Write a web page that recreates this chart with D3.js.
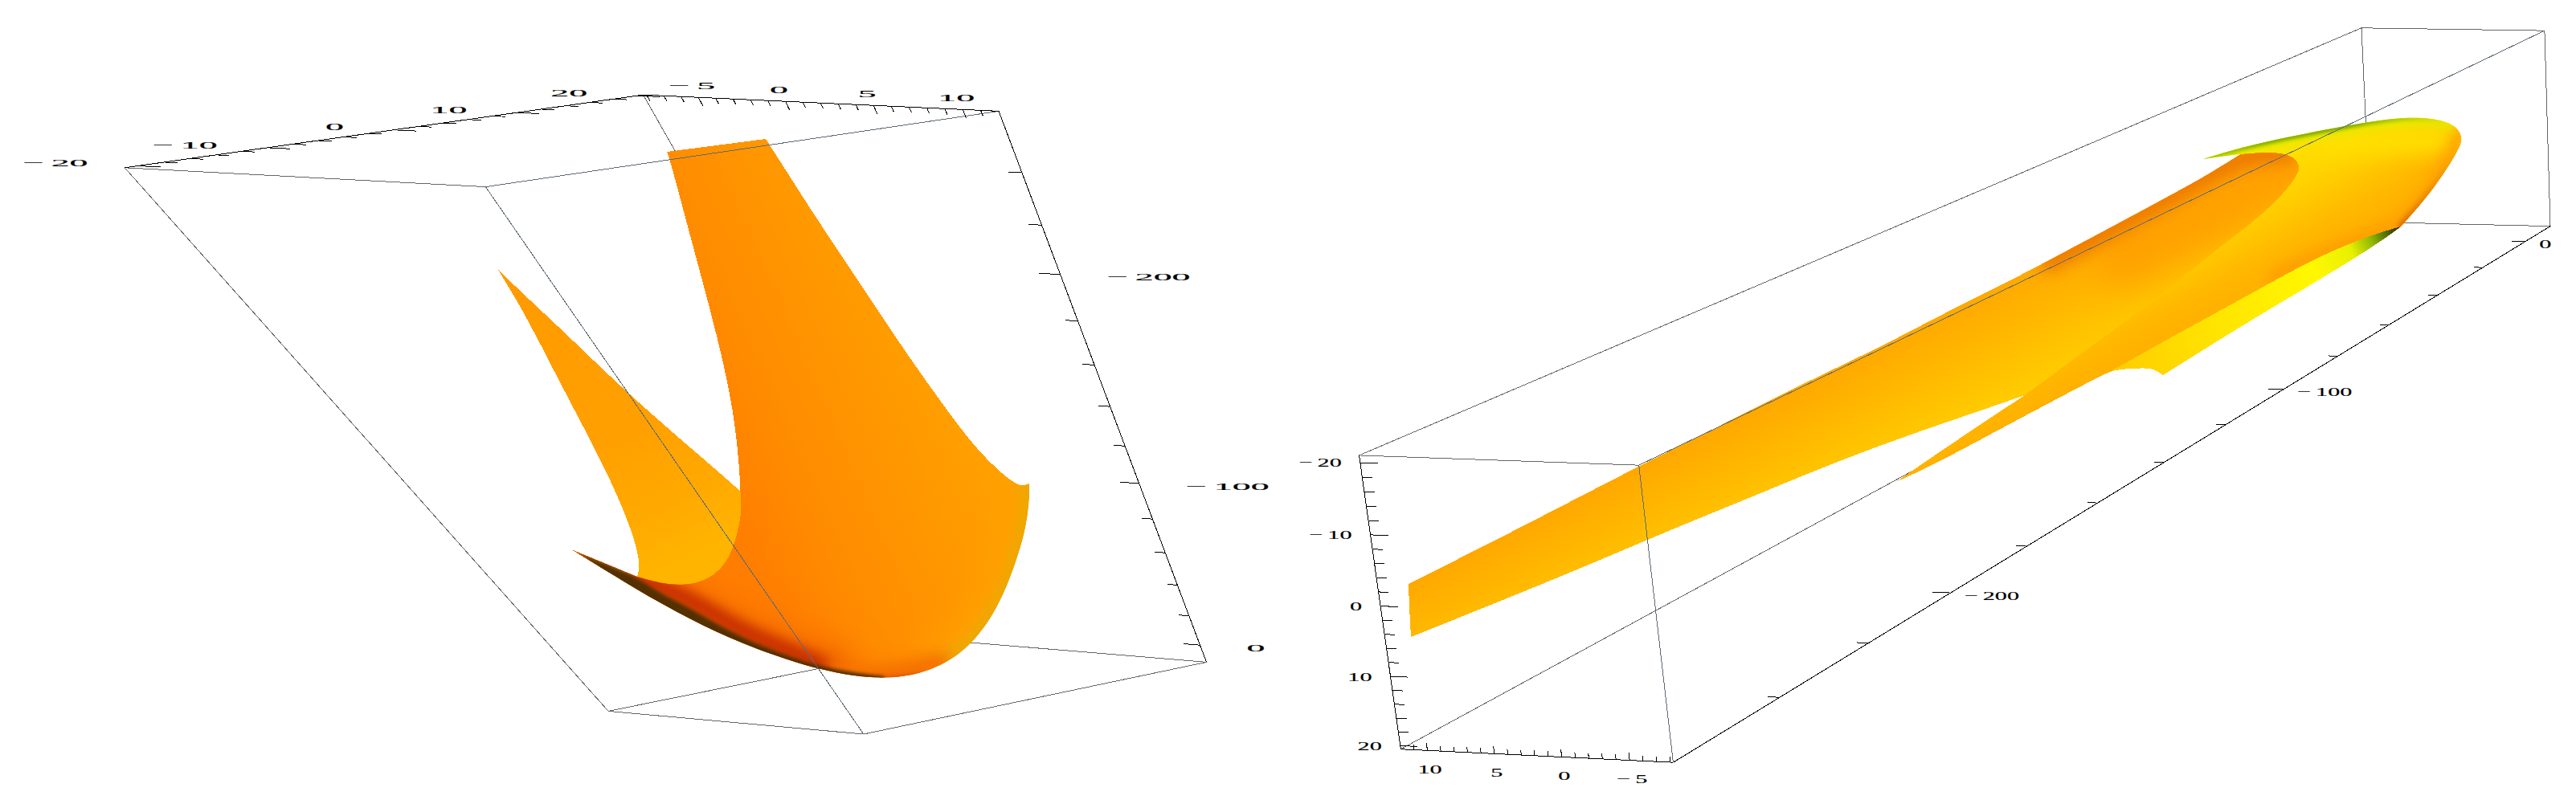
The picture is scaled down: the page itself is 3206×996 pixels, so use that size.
<!DOCTYPE html>
<html>
<head>
<meta charset="utf-8">
<script src="https://d3js.org/d3.v7.min.js"></script>
<style>
  html, body { margin: 0; background: #fff; }
  text { font-family: "Liberation Serif", serif; fill: #000; stroke: #000; stroke-width: 0.15; }
</style>
</head>
<body>
<script>
var width = 3206, height = 996;

// ---- axis data
var xRange = [12, -8.2], yRange = [-21, 20.5], zRange = [-262, 12];
var xTicks = d3.range(-8, 12), xMajor = [-5, 0, 5, 10];
var yTicks = d3.range(-20, 21, 2), yMajor = [-20, -10, 0, 10, 20];
var zTicks = d3.range(-240, 1, 20), zMajor = [-200, -100, 0];

// box corners, order u,v,w in the unit cube
var cubeCorners = [[0,0,0],[1,0,0],[0,1,0],[1,1,0],[0,0,1],[1,0,1],[0,1,1],[1,1,1]];
var leftBox  = [[603,234],[155,208],[1242,139],[803,117],[1075,913],[758,886],[1503,824],[1185,799]];
var rightBox = [[1692,567],[2039,579],[1743,933],[2083,949],[2939,35],[3167,38],[2950,276],[3174,282]];

// ---- surface outlines (picture units), left view
var armTop = [[620,336],[663,377],[707,418],[743,453],[777,485],[813,517],[847,547],[880,575],[922,612]];
var armHidden = [[922,612],[935,690],[850,745],[793,718]];
var armLeft = [[793,718],[797,703],[790,673],[777,637],[753,583],[720,520],[687,457],[653,390],[620,336]];

var sheetTop = [[953,173],[830,189]];
var sheetLeft = [[830,189],[835,203],[850,260],[867,323],[885,390],[900,450],[913,513],[920,577],[922,620],[922,640]];
var sheetFold = [[922,640],[920,653],[913,682],[900,707],[877,724],[850,729],[820,726],[793,718]];
var sliverTop = [[793,718],[750,700],[711,684]];
var sheetBottom = [[711,684],[774,723],[841,762],[908,795],[975,820],[1019,833],[1063,842],[1097,844],[1120,843],[1147,838],[1177,826],[1207,804],[1233,771],[1253,731],[1267,691],[1276,660],[1281,625],[1281,602]];
var sheetRight = [[1281,602],[1273,605],[1265,603],[1247,590],[1213,557],[1173,503],[1133,447],[1093,387],[1053,327],[1013,267],[980,215],[953,173]];

var darkUpper = [[711,684],[750,700],[793,718],[818,737],[860,757],[908,787],[975,815],[1019,829],[1064,838],[1100,842]];
var darkLower = [[1100,848],[1063,846],[1019,838],[975,825],[908,800],[841,767],[774,728],[711,684]];
var redRidge = [[793,720],[825,732],[870,752],[920,785],[985,812],[1020,827]];
var emberRidge = [[800,730],[870,770],[950,810],[1030,835]];
var floorRim = [[1019,836],[1063,845],[1097,848],[1147,842]];
var floorGlow = [[1000,838],[1090,846],[1170,826]];
var rimRight = [[1281,602],[1280,620],[1275,660],[1267,690],[1253,730],[1233,770],[1207,803],[1177,825]];

// ---- surface outlines, right view
var bodyUpper = [[1753,727],[1900,653],[2040,580],[2147,527],[2233,483],[2313,445],[2363,420],[2420,390],[2480,360],[2520,340],[2620,287],[2720,233],[2750,216],[2790,191]];
var bodyCap = [[2790,191],[2847,188],[2865,205],[2857,222],[2837,247],[2800,280],[2763,307],[2727,337],[2687,370]];
var bodyFold = [[2687,370],[2600,433],[2520,492]];
var bodyLower = [[2520,492],[2460,513],[2380,540],[2280,577],[2177,620],[2120,643],[2048,673],[1933,722],[1756,793]];
var bodyEnd = [[1756,793],[1754,757],[1753,727]];

var headTipEdge = [[2360,600],[2403,570],[2473,523],[2520,492]];
var headFold = [[2520,492],[2600,433],[2687,370],[2727,337],[2763,307],[2800,280],[2837,247],[2857,222],[2865,205],[2847,188],[2790,191],[2742,198]];
var headTop = [[2742,198],[2783,185],[2850,170],[2917,157],[2977,147],[3017,146],[3045,151],[3060,160],[3065,173],[3059,188],[3041,217],[3017,250],[2988,282]];
var headLower = [[2988,282],[2967,298],[2917,330],[2850,370],[2783,410],[2692,467]];
var notch = [[2692,467],[2680,459],[2667,458],[2633,460],[2620,465],[2563,495],[2497,530],[2410,577],[2360,600]];

var bandUpper = [[2627,462],[2720,410],[2803,365],[2883,320],[2950,293],[2988,282]];

var greenRim = [[2742,198],[2783,185],[2850,170],[2917,157],[2977,147],[3017,146],[3045,151]];
var yellowCrown = [[2900,180],[3000,172],[3045,176]];
var orangeRim = [[3065,173],[3059,188],[3041,217],[3017,250],[2988,282]];
var belly = [[2830,345],[2900,312],[2988,280]];
var innerRim = [[2550,325],[2620,287],[2720,233],[2790,191],[2847,190]];
var innerGlow = [[2640,320],[2720,280],[2790,245],[2850,210]];

// ---- page
var picX = d3.scaleLinear().domain([0, 3206]).range([0, width]);
var picY = d3.scaleLinear().domain([0, 996]).range([0, height]);

var svg = d3.select("body").append("svg")
  .attr("width", width).attr("height", height)
  .style("display", "block").style("background", "#fff");
var defs = svg.append("defs");

var edge = d3.line().x(function(d){ return picX(d[0]); }).y(function(d){ return picY(d[1]); })
  .curve(d3.curveBasis);

function outline(parts) {
  return parts.map(function(p, i){ var s = edge(p); return i ? s.replace("M", "L") : s; }).join("") + "Z";
}

function gradient(id, x1, y1, x2, y2, stops) {
  var g = defs.append("linearGradient").attr("id", id).attr("gradientUnits", "userSpaceOnUse")
    .attr("x1", picX(x1)).attr("y1", picY(y1)).attr("x2", picX(x2)).attr("y2", picY(y2));
  stops.forEach(function(s){ g.append("stop").attr("offset", s[0]).attr("stop-color", s[1]); });
  return "url(#" + id + ")";
}

var blurs = {};
function blur(sd) {
  if (!blurs[sd]) {
    blurs[sd] = "blur" + sd;
    defs.append("filter").attr("id", blurs[sd]).attr("filterUnits", "userSpaceOnUse")
      .attr("x", 0).attr("y", 0).attr("width", width).attr("height", height)
      .attr("color-interpolation-filters", "sRGB")
      .append("feGaussianBlur").attr("stdDeviation", sd);
  }
  return "url(#" + blurs[sd] + ")";
}

// a filled piece of the surface with its shading strokes clipped inside
function patch(g, id, d, fill) {
  defs.append("clipPath").attr("id", id).append("path").attr("d", d);
  g.append("path").attr("d", d).attr("fill", fill).attr("shape-rendering", "crispEdges");
  return g.append("g").attr("clip-path", "url(#" + id + ")");
}
function shade(g, pts, color, w, sd) {
  g.append("path").attr("d", edge(pts)).attr("fill", "none").attr("stroke", color)
    .attr("stroke-width", w).attr("stroke-linecap", "round").attr("filter", blur(sd));
}

// ---- camera fitted on the box corners
function solve(A, b) {
  var n = b.length;
  for (var i = 0; i < n; i++) {
    var m = i;
    for (var r = i + 1; r < n; r++) if (Math.abs(A[r][i]) > Math.abs(A[m][i])) m = r;
    var t = A[i]; A[i] = A[m]; A[m] = t;
    var tb = b[i]; b[i] = b[m]; b[m] = tb;
    for (var r2 = i + 1; r2 < n; r2++) {
      var f = A[r2][i] / A[i][i];
      for (var c = i; c < n; c++) A[r2][c] -= f * A[i][c];
      b[r2] -= f * b[i];
    }
  }
  var x = new Array(n);
  for (var k = n - 1; k >= 0; k--) {
    var s = b[k];
    for (var c2 = k + 1; c2 < n; c2++) s -= A[k][c2] * x[c2];
    x[k] = s / A[k][k];
  }
  return x;
}

function fitCamera(screen) {
  var rows = [], rhs = [];
  cubeCorners.forEach(function(c, i){
    var sx = screen[i][0] / 1000, sy = screen[i][1] / 1000;
    rows.push([c[0], c[1], c[2], 1, 0, 0, 0, 0, -sx*c[0], -sx*c[1], -sx*c[2]]); rhs.push(sx);
    rows.push([0, 0, 0, 0, c[0], c[1], c[2], 1, -sy*c[0], -sy*c[1], -sy*c[2]]); rhs.push(sy);
  });
  var A = d3.range(11).map(function(i){ return d3.range(11).map(function(j){ return d3.sum(rows, function(r){ return r[i]*r[j]; }); }); });
  var b = d3.range(11).map(function(i){ return d3.sum(rows, function(r, k){ return r[i]*rhs[k]; }); });
  var p = solve(A, b);
  return function(u, v, w) {
    var h = p[8]*u + p[9]*v + p[10]*w + 1;
    return [picX(1000*(p[0]*u + p[1]*v + p[2]*w + p[3]) / h), picY(1000*(p[4]*u + p[5]*v + p[6]*w + p[7]) / h)];
  };
}

var xScale = d3.scaleLinear().domain(xRange).range([0, 1]);
var yScale = d3.scaleLinear().domain(yRange).range([0, 1]);
var zScale = d3.scaleLinear().domain(zRange).range([0, 1]);

function viewOf(screen) {
  var cam = fitCamera(screen);
  return function(x, y, z){ return cam(xScale(x), yScale(y), zScale(z)); };
}

var X0 = xRange[0], X1 = xRange[1], Y0 = yRange[0], Y1 = yRange[1], Z0 = zRange[0], Z1 = zRange[1];

function boxLine(g, view, a, b, color) {
  var p = view(a[0], a[1], a[2]), q = view(b[0], b[1], b[2]);
  g.append("line").attr("x1", p[0]).attr("y1", p[1]).attr("x2", q[0]).attr("y2", q[1])
    .attr("stroke", color).attr("stroke-width", 1).attr("shape-rendering", "crispEdges");
}

function label(g, pos, v, anchor, dx, dy, size, stretch) {
  var s = v < 0 ? "\u2212\u2009" + (-v) : String(v);
  g.append("text").attr("transform", "translate(" + (pos[0] + dx) + "," + (pos[1] + dy) + ") scale(" + stretch + ",1)")
    .attr("text-anchor", anchor).attr("dy", ".35em").attr("font-size", size).text(s);
}

// ticks of one axis: point(v) gives the world point, step the tick direction
function axis(g, view, values, major, point, step, lenMajor, lenMinor, lab) {
  values.forEach(function(v){
    var isMajor = major.indexOf(v) >= 0, len = isMajor ? lenMajor : lenMinor;
    var w = point(v);
    var p = view(w[0], w[1], w[2]);
    var q = view(w[0] + step[0]*len, w[1] + step[1]*len, w[2] + step[2]*len);
    g.append("line").attr("x1", p[0]).attr("y1", p[1]).attr("x2", q[0]).attr("y2", q[1])
      .attr("stroke", "#000").attr("stroke-width", 1).attr("shape-rendering", "crispEdges");
    if (isMajor) label(g, p, v, lab.anchor, lab.dx, lab.dy, lab.size, lab.stretch);
  });
}

// ---- left view
var leftView = viewOf(leftBox);
var gL = svg.append("g");
var grey = "#666", front = "#5f6975";

boxLine(gL, leftView, [X1,Y1,Z0], [X1,Y1,Z1], grey);
boxLine(gL, leftView, [X1,Y0,Z1], [X1,Y1,Z1], grey);
boxLine(gL, leftView, [X0,Y1,Z1], [X1,Y1,Z1], grey);

var armFill = gradient("armFill", 620, 336, 800, 720, [[0,"#ff9a00"],[0.6,"#ffa000"],[0.85,"#ffaa00"],[1,"#ffb400"]]);
patch(gL, "armClip", outline([armTop, armHidden, armLeft]), armFill);

var sheetFill = gradient("sheetFill", 1000, 850, 1309, 714, [[0,"#ff7e00"],[0.3,"#ff8c00"],[0.68,"#ff9800"],[1,"#ffa200"]]);
var sheetShade = patch(gL, "sheetClip", outline([sheetLeft, sheetFold, sliverTop, sheetBottom, sheetRight, sheetTop]), sheetFill);
shade(sheetShade, rimRight, "#ffa000", 60, 20);
shade(sheetShade, rimRight, "#eda800", 20, 7);
shade(sheetShade, emberRidge, "#f87000", 70, 20);
shade(sheetShade, emberRidge, "#e85a00", 36, 12);
shade(sheetShade, floorGlow, "#f47000", 26, 9);
shade(sheetShade, floorRim, "#d04000", 6, 3);
shade(sheetShade, redRidge, "#c83000", 20, 7);
sheetShade.append("path").attr("d", outline([darkUpper, darkLower])).attr("fill", "#523000").attr("filter", blur(2));

boxLine(gL, leftView, [X0,Y0,Z0], [X0,Y0,Z1], front);
boxLine(gL, leftView, [X0,Y0,Z0], [X0,Y1,Z0], front);
boxLine(gL, leftView, [X1,Y0,Z0], [X0,Y0,Z0], grey);
boxLine(gL, leftView, [X1,Y0,Z0], [X1,Y0,Z1], grey);
boxLine(gL, leftView, [X1,Y0,Z1], [X0,Y0,Z1], grey);
boxLine(gL, leftView, [X0,Y0,Z1], [X0,Y1,Z1], grey);
boxLine(gL, leftView, [X1,Y0,Z0], [X1,Y1,Z0], "#000");
boxLine(gL, leftView, [X1,Y1,Z0], [X0,Y1,Z0], "#000");
boxLine(gL, leftView, [X0,Y1,Z0], [X0,Y1,Z1], "#000");

var leftText = { size: 13.5, stretch: 3.4 };
axis(gL, leftView, yTicks, yMajor, function(v){ return [X1, v, Z0]; }, [1,0,0], 1.3, 0.76,
  Object.assign({ anchor: "end", dx: -62, dy: -4 }, leftText));
axis(gL, leftView, xTicks, xMajor, function(v){ return [v, Y1, Z0]; }, [0,0,1], 3, 2,
  Object.assign({ anchor: "middle", dx: -8, dy: -15 }, leftText));
axis(gL, leftView, zTicks, zMajor, function(v){ return [X0, Y1, v]; }, [-1,0,0], 1.3, 0.76,
  Object.assign({ anchor: "start", dx: 58, dy: 3 }, leftText));

// ---- right view
var rightView = viewOf(rightBox);
var gR = svg.append("g");

boxLine(gR, rightView, [X0,Y0,Z1], [X0,Y1,Z1], grey);
boxLine(gR, rightView, [X0,Y1,Z1], [X1,Y1,Z1], grey);
boxLine(gR, rightView, [X0,Y1,Z0], [X0,Y1,Z1], grey);

var bodyFill = gradient("bodyFill", 2000, 601, 2061, 721, [[0,"#ffa800"],[0.45,"#ffb800"],[1,"#ffcc00"]]);
var bodyShade = patch(gR, "bodyClip", outline([bodyUpper, bodyCap, bodyFold, bodyLower, bodyEnd]), bodyFill);
shade(bodyShade, innerGlow, "#ffa000", 70, 22);
shade(bodyShade, innerRim, "#ec7800", 26, 10);

var headFill = gradient("headFill", 2850, 165, 2932, 315, [[0,"#ffe800"],[0.2,"#ffdc00"],[0.45,"#ffcc00"],[0.7,"#ffb800"],[1,"#ffac00"]]);
var headShade = patch(gR, "headClip", outline([headTipEdge, headFold, headTop, headLower, notch]), headFill);
shade(headShade, yellowCrown, "#ffe000", 30, 12);
shade(headShade, belly, "#ff9c00", 16, 8);
shade(headShade, orangeRim, "#ffa400", 26, 9);
shade(headShade, orangeRim, gradient("rimFill", 3060, 170, 2990, 282, [[0,"#ffb800"],[0.5,"#f09000"],[1,"#dc6c00"]]), 9, 3);
shade(headShade, greenRim, "#e8e800", 22, 6);
shade(headShade, greenRim, gradient("greenFill", 2742, 190, 3043, 150, [[0,"#a8cc00"],[0.25,"#7fae00"],[0.6,"#78a800"],[0.85,"#b8d000"],[1,"#f0e000"]]), 7, 2);

var bandFill = gradient("bandFill", 2627, 462, 2988, 282, [[0,"#ffcc00"],[0.35,"#ffe400"],[0.7,"#fff800"],[0.83,"#e8f000"],[0.9,"#90b800"],[0.97,"#3a5000"],[1,"#502c00"]]);
patch(gR, "bandClip", outline([bandUpper, headLower, notch.slice(0, 5)]), bandFill);

boxLine(gR, rightView, [X1,Y0,Z0], [X1,Y0,Z1], front);
boxLine(gR, rightView, [X1,Y0,Z0], [X1,Y1,Z0], front);
boxLine(gR, rightView, [X0,Y0,Z0], [X1,Y0,Z0], grey);
boxLine(gR, rightView, [X0,Y0,Z0], [X0,Y0,Z1], grey);
boxLine(gR, rightView, [X0,Y0,Z1], [X1,Y0,Z1], grey);
boxLine(gR, rightView, [X1,Y0,Z1], [X1,Y1,Z1], grey);
boxLine(gR, rightView, [X0,Y0,Z0], [X0,Y1,Z0], "#000");
boxLine(gR, rightView, [X0,Y1,Z0], [X1,Y1,Z0], "#000");
boxLine(gR, rightView, [X1,Y1,Z0], [X1,Y1,Z1], "#000");

var rightText = { size: 15.5, stretch: 1.95 };
axis(gR, rightView, yTicks, yMajor, function(v){ return [X0, v, Z0]; }, [-1,0,0], 1.3, 0.76,
  Object.assign({ anchor: "end", dx: -23, dy: 0 }, rightText));
axis(gR, rightView, xTicks, xMajor, function(v){ return [v, Y1, Z0]; }, [0,-1,0], 1.1, 0.75,
  Object.assign({ anchor: "middle", dx: 3, dy: 23 }, rightText));
axis(gR, rightView, zTicks, zMajor, function(v){ return [X1, Y1, v]; }, [1,0,0], 1.5, 0.9,
  Object.assign({ anchor: "start", dx: 17, dy: 3 }, rightText));
</script>
</body>
</html>
